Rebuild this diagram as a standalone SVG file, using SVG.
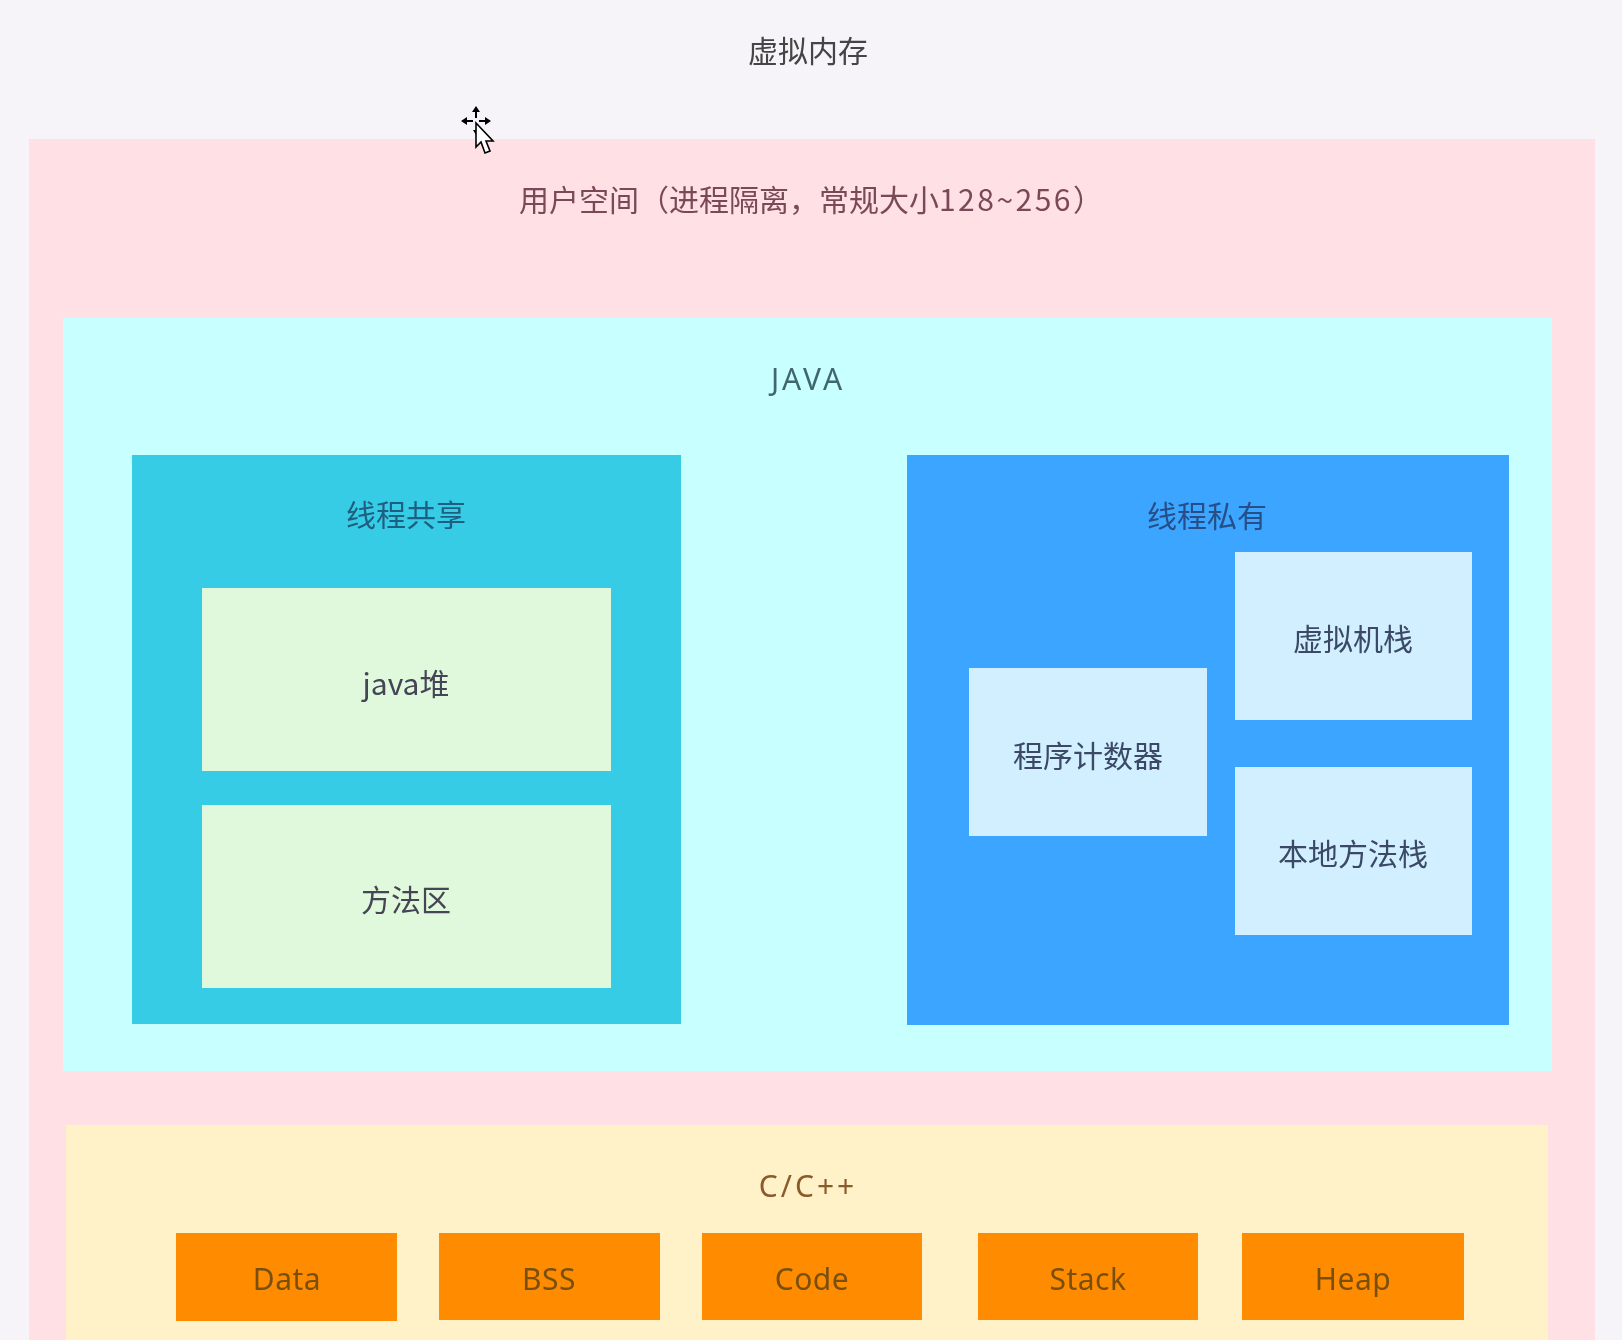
<svg xmlns="http://www.w3.org/2000/svg" width="1622" height="1340" viewBox="0 0 1622 1340">
<style>
text{font-family:"Noto Sans CJK SC","Noto Sans",sans-serif;font-size:30px;text-anchor:middle;font-weight:400;filter:url(#soft)}
.lat{font-family:"Noto Sans","Noto Sans CJK SC",sans-serif}
.org{fill:#7a5010;letter-spacing:.5px}
</style>
<defs><filter id="soft" x="-5%" y="-20%" width="110%" height="140%"><feGaussianBlur stdDeviation="0.55"/></filter></defs>
<rect width="1622" height="1340" fill="#f6f4f8"/>
<g id="virtual-memory"><text x="808" y="62" fill="#444">虚拟内存</text></g>
<g id="user-space"><rect x="29" y="139" width="1566" height="1201" fill="#ffe0e5"/>
<text x="811" y="211" fill="#7a4a58">用户空间（进程隔离，常规大小<tspan letter-spacing="2.5">128~256</tspan>）</text></g>
<g id="java"><rect x="63" y="318" width="1489" height="753" fill="#c8ffff"/>
<text x="808" y="390" fill="#3f6670" class="lat" letter-spacing="3">JAVA</text></g>
<g id="thread-shared"><rect x="132" y="455" width="549" height="569" fill="#36cce6"/>
<text x="406" y="526" fill="#1f5f80">线程共享</text></g>
<g id="java-heap"><rect x="202" y="588" width="409" height="183" fill="#e0f9dc"/>
<text x="406" y="695" fill="#445">java堆</text></g>
<g id="method-area"><rect x="202" y="805" width="409" height="183" fill="#e0f9dc"/>
<text x="406" y="911" fill="#445">方法区</text></g>
<g id="thread-private"><rect x="907" y="455" width="602" height="570" fill="#3ba5ff"/>
<text x="1207" y="527" fill="#25508a">线程私有</text></g>
<g id="vm-stack"><rect x="1235" y="552" width="237" height="168" fill="#d2efff"/>
<text x="1353" y="650" fill="#3a4a66">虚拟机栈</text></g>
<g id="program-counter"><rect x="969" y="668" width="238" height="168" fill="#d2efff"/>
<text x="1088" y="767" fill="#3a4a66">程序计数器</text></g>
<g id="native-stack"><rect x="1235" y="767" width="237" height="168" fill="#d2efff"/>
<text x="1353" y="865" fill="#3a4a66">本地方法栈</text></g>
<g id="c-cpp"><rect x="66" y="1125" width="1482" height="215" fill="#fff1c8"/>
<text x="808" y="1197" fill="#8a5a2a" class="lat" letter-spacing="3">C/C++</text></g>
<g id="data"><rect x="176" y="1233" width="221" height="88" fill="#ff8c00"/><text x="287" y="1290" class="lat org">Data</text></g>
<g id="bss"><rect x="439" y="1233" width="221" height="87" fill="#ff8c00"/><text x="549" y="1290" class="lat org">BSS</text></g>
<g id="code"><rect x="702" y="1233" width="220" height="87" fill="#ff8c00"/><text x="812" y="1290" class="lat org">Code</text></g>
<g id="stack"><rect x="978" y="1233" width="220" height="87" fill="#ff8c00"/><text x="1088" y="1290" class="lat org">Stack</text></g>
<g id="heap"><rect x="1242" y="1233" width="222" height="87" fill="#ff8c00"/><text x="1353" y="1290" class="lat org">Heap</text></g>
<g id="cursor">
<path d="M476 106l-4 6h3v6h2v-6h3zM461 121l6-4v3h6v2h-6v3zM491 121l-6-4v3h-6v2h6v3zM476 135l-3-5h6z" fill="#000"/>
<path d="M476 123v24l5-5 4 11 5-2-4-10h7z" fill="#fff" stroke="#000" stroke-width="1.6"/>
</g>
</svg>
